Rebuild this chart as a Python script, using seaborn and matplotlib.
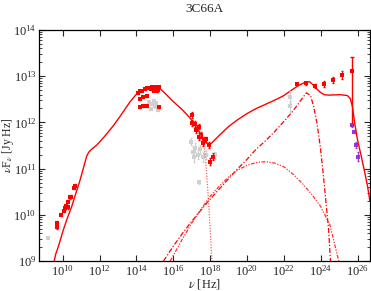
import numpy as np
import matplotlib
matplotlib.use('Agg')
import matplotlib.pyplot as plt
import seaborn as sns
from matplotlib.ticker import LogLocator, NullFormatter, FixedLocator

# ---- model curves (log10 nu, log10 nuFnu) ----
total_lx = [9.54, 9.62, 9.76, 10.03, 10.25, 10.49, 10.70, 10.94, 11.15, 11.30, 11.42, 11.60,
            11.85, 12.30, 12.75, 13.20, 13.66, 14.02, 14.57, 15.20, 15.50, 16.00, 16.50, 16.92,
            17.40, 17.70, 17.95, 18.50, 19.00, 19.50, 20.00, 20.50, 21.00, 21.50, 22.00, 22.35,
            22.80, 23.17, 23.40, 23.62, 23.80, 23.98, 24.20, 24.43, 25.07, 25.45, 25.60, 25.72,
            25.84, 26.00, 26.20, 26.40, 26.55, 26.67]
total_ly = [9.00, 9.15, 9.31, 9.67, 9.93, 10.18, 10.45, 10.75, 11.05, 11.27, 11.36, 11.43,
            11.51, 11.71, 11.93, 12.18, 12.45, 12.62, 12.74, 12.76, 12.65, 12.45, 12.27, 12.09,
            11.80, 11.60, 11.50, 11.72, 11.91, 12.06, 12.19, 12.30, 12.39, 12.48, 12.58, 12.68,
            12.80, 12.87, 12.88, 12.80, 12.72, 12.65, 12.60, 12.59, 12.60, 12.58, 12.52, 12.35,
            12.00, 11.62, 11.27, 10.90, 10.60, 10.30]

sync_lx = [17.45, 17.60, 17.70, 17.80, 17.91, 18.00, 18.10]
sync_ly = [11.72, 11.60, 11.42, 10.95, 10.32, 9.70, 9.00]

ec_lx = [15.47, 16.0, 16.5, 17.0, 17.5, 18.0, 18.5, 19.0, 19.5, 20.0, 20.5, 21.0, 21.5, 22.0,
         22.5, 23.0, 23.22, 23.45, 23.62, 23.8, 23.98, 24.12, 24.26, 24.43, 24.53]
ec_ly = [9.0, 9.32, 9.60, 9.86, 10.10, 10.34, 10.56, 10.78, 11.0, 11.2, 11.42, 11.6, 11.8, 12.02,
         12.25, 12.52, 12.64, 12.58, 12.34, 11.98, 11.47, 10.95, 10.39, 9.67, 9.0]

ssc_lx = [15.83, 16.0, 16.5, 17.0, 17.5, 18.0, 18.5, 19.0, 19.5, 20.0, 20.5, 21.0, 21.5, 22.0,
          22.5, 23.0, 23.5, 24.0, 24.5, 24.98]
ssc_ly = [9.0, 9.12, 9.48, 9.82, 10.12, 10.40, 10.62, 10.82, 10.97, 11.07, 11.13, 11.15, 11.12,
          11.04, 10.88, 10.68, 10.45, 10.18, 9.78, 9.0]

# ---- data points (log10 nu, log10 nuFnu, error in dex) ----
red_lx = [9.71, 9.71, 9.91, 10.07, 10.14, 10.20, 10.27, 10.30, 10.38, 10.43, 10.61, 10.65,
          14.08, 14.20, 14.30, 14.45, 14.60, 14.72, 14.80, 14.85, 14.92, 14.98, 15.05, 15.10,
          15.15, 15.20, 14.95, 15.10, 15.18,
          14.17, 14.35, 14.57, 14.17, 14.35, 14.57, 15.20,
          16.99, 17.03, 17.16, 17.25, 17.37, 17.41, 17.52, 17.59, 17.68, 17.77, 17.92, 17.97, 18.13,
          22.72, 23.22, 23.71, 24.17, 24.67, 25.18]
red_ly = [9.83, 9.74, 10.00, 10.09, 10.14, 10.19, 10.16, 10.28, 10.38, 10.39, 10.59, 10.63,
          12.64, 12.67, 12.69, 12.72, 12.74, 12.75, 12.72, 12.76, 12.74, 12.76, 12.73, 12.77,
          12.74, 12.76, 12.69, 12.68, 12.70,
          12.51, 12.54, 12.57, 12.34, 12.35, 12.35, 12.33,
          12.16, 11.99, 11.97, 11.84, 11.91, 11.69, 11.73, 11.55, 11.62, 11.63, 11.51, 11.15, 11.26,
          12.84, 12.85, 12.79, 12.83, 12.92, 13.03]
red_err = [0.04, 0.04, 0.03, 0.03, 0.03, 0.03, 0.03, 0.03, 0.03, 0.03, 0.04, 0.03,
           0.02, 0.02, 0.02, 0.02, 0.02, 0.02, 0.02, 0.02, 0.02, 0.02, 0.02, 0.02,
           0.02, 0.02, 0.02, 0.02, 0.02,
           0.02, 0.02, 0.02, 0.02, 0.02, 0.02, 0.02,
           0.07, 0.06, 0.06, 0.07, 0.06, 0.07, 0.06, 0.07, 0.06, 0.06, 0.07, 0.08, 0.07,
           0.02, 0.03, 0.04, 0.07, 0.07, 0.09]

# highest energy red point with a big asymmetric error bar
top_lx, top_ly, top_lo, top_hi = 25.69, 13.12, 1.18, 0.29

grey_lx = [9.18, 14.70, 14.85, 14.95, 15.00, 15.05, 15.15, 14.80,
           16.97, 17.07, 17.15, 17.20, 17.35, 17.45, 17.60, 17.80, 18.28, 17.39,
           22.36, 22.36]
grey_ly = [9.50, 12.45, 12.40, 12.47, 12.35, 12.42, 12.27, 12.30,
           11.58, 11.37, 11.25, 11.45, 11.30, 11.42, 11.25, 11.30, 11.29, 10.70,
           12.55, 12.35]
grey_err = [0.02, 0.03, 0.03, 0.03, 0.03, 0.03, 0.03, 0.03,
            0.08, 0.10, 0.10, 0.10, 0.10, 0.10, 0.10, 0.10, 0.08, 0.04,
            0.12, 0.12]

purple_lx = [25.71, 25.79, 25.92, 26.01]
purple_ly = [11.94, 11.80, 11.51, 11.26]
purple_err = [0.03, 0.04, 0.07, 0.10]

sns.set_theme(style='ticks')
plt.rcParams['font.family'] = ['Liberation Serif', 'DejaVu Serif']
plt.rcParams['mathtext.fontset'] = 'stix'

fig = plt.figure(figsize=(3.71, 2.91), dpi=100)
ax = fig.add_axes([0.106, 0.103, 0.891, 0.794])


def lin(a):
    return 10 ** np.asarray(a, dtype=float)


def err_bars(ly, e):
    ly = np.asarray(ly, dtype=float)
    e = np.asarray(e, dtype=float)
    return [10 ** ly - 10 ** (ly - e), 10 ** (ly + e) - 10 ** ly]


# model curves
sns.lineplot(x=lin(total_lx), y=lin(total_ly), ax=ax, color='red', lw=1.0,
             sort=False, estimator=None)
sns.lineplot(x=lin(sync_lx), y=lin(sync_ly), ax=ax, color='#ff6060', lw=0.9,
             linestyle=(0, (1, 1.2)), sort=False, estimator=None)
sns.lineplot(x=lin(ec_lx), y=lin(ec_ly), ax=ax, color='red', lw=0.9,
             linestyle=(0, (4, 1.5, 1, 1.5)), sort=False, estimator=None)
sns.lineplot(x=lin(ssc_lx), y=lin(ssc_ly), ax=ax, color='#ff3030', lw=0.9,
             linestyle=(0, (3, 1.2, 1, 1.2, 1, 1.2)), sort=False, estimator=None)

# data
ax.errorbar(lin(grey_lx), lin(grey_ly), yerr=err_bars(grey_ly, grey_err), fmt='none',
            ecolor='#d0d0d0', elinewidth=0.8, capsize=1)
sns.scatterplot(x=lin(grey_lx), y=lin(grey_ly), ax=ax, color='#d0d0d0', marker='s',
                s=7, linewidth=0)

ax.errorbar(lin(red_lx), lin(red_ly), yerr=err_bars(red_ly, red_err), fmt='none',
            ecolor='red', elinewidth=0.8, capsize=1)
ax.errorbar([10 ** top_lx], [10 ** top_ly],
            yerr=[[10 ** top_ly - 10 ** (top_ly - top_lo)], [10 ** (top_ly + top_hi) - 10 ** top_ly]],
            fmt='none', ecolor='red', elinewidth=1.0, capsize=1.5)
sns.scatterplot(x=np.append(lin(red_lx), 10 ** top_lx), y=np.append(lin(red_ly), 10 ** top_ly),
                ax=ax, color='red', marker='s', s=9, linewidth=0)

ax.errorbar(lin(purple_lx), lin(purple_ly), yerr=err_bars(purple_ly, purple_err), fmt='none',
            ecolor='#9933dd', elinewidth=0.8, capsize=1)
sns.scatterplot(x=lin(purple_lx), y=lin(purple_ly), ax=ax, color='#9933dd', marker='s',
                s=9, linewidth=0)

ax.set_xscale('log')
ax.set_yscale('log')
ax.set_xlim(10 ** 8.73, 10 ** 26.67)
ax.set_ylim(1e9, 1e14)

ax.xaxis.set_major_locator(FixedLocator([10.0 ** k for k in range(10, 27, 2)]))
ax.xaxis.set_minor_locator(FixedLocator([]))
ax.yaxis.set_major_locator(LogLocator(base=10, numticks=10))
ax.yaxis.set_minor_locator(LogLocator(base=10, subs=np.arange(2, 10), numticks=20))
ax.yaxis.set_minor_formatter(NullFormatter())

ax.tick_params(which='both', direction='in', top=True, right=True, labelsize=9, pad=2)
ax.tick_params(which='major', length=4, width=0.8)
ax.tick_params(which='minor', length=2, width=0.6)
for sp in ax.spines.values():
    sp.set_linewidth(0.9)
    sp.set_color('black')

ax.set_title('3C66A', fontsize=9.5, pad=13)
ax.set_xlabel(r'$\nu$ [Hz]', fontsize=9, labelpad=-1)
ax.set_ylabel(r'$\nu$F$_\nu$ [Jy Hz]', fontsize=8.5)
ax.yaxis.set_label_coords(-0.072, 0.5)

fig.savefig('out.png', dpi=100)
